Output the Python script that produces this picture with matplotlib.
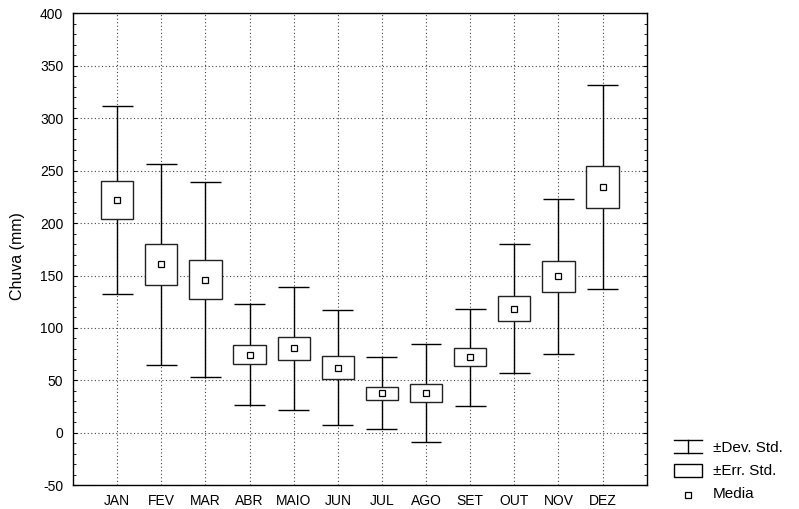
import matplotlib
matplotlib.use("Agg")
import matplotlib.pyplot as plt
from matplotlib.lines import Line2D
from matplotlib.patches import Rectangle
import numpy as np

plt.rcParams['font.family'] = ['Liberation Sans', 'DejaVu Sans']

months = ["JAN", "FEV", "MAR", "ABR", "MAIO", "JUN", "JUL", "AGO", "SET", "OUT", "NOV", "DEZ"]
mean = [222.0, 160.8, 146.0, 74.5, 80.5, 62.3, 37.8, 38.0, 72.0, 118.5, 149.3, 234.5]
std_err = [17.9, 19.4, 18.4, 9.2, 11.1, 10.5, 6.0, 8.8, 8.7, 12.0, 14.6, 19.8]
std_dev = [89.3, 95.9, 93.0, 48.0, 58.5, 54.5, 34.6, 46.9, 46.1, 61.8, 73.9, 97.6]
y_ticks = [-50, 0, 50, 100, 150, 200, 250, 300, 350, 400]

W, H = 799, 509
fig = plt.figure(figsize=(W / 100, H / 100), dpi=100)
ax = fig.add_axes([73 / W, 1 - 485.3 / H, (646.7 - 73) / W, (485.3 - 13.3) / H])

x = np.arange(len(months))
m = np.array(mean)
se = np.array(std_err)
sd = np.array(std_dev)

box_w = 0.73
cap_w = 0.70

# whiskers (std dev)
ax.vlines(x, m - sd, m + sd, color='black', lw=1.0, zorder=3)
ax.hlines(m + sd, x - cap_w / 2, x + cap_w / 2, color='black', lw=1.0, zorder=3)
ax.hlines(m - sd, x - cap_w / 2, x + cap_w / 2, color='black', lw=1.0, zorder=3)
# boxes (std err)
ax.bar(x, 2 * se, bottom=m - se, width=box_w, facecolor='white',
       edgecolor='#222222', linewidth=1.0, zorder=4)
# means
ax.plot(x, m, linestyle='none', marker='s', markersize=4.2, markerfacecolor='white',
        markeredgecolor='black', markeredgewidth=0.9, zorder=5)

ax.set_xlim(-1, len(months))
ax.set_ylim(-50, 400)
ax.set_xticks(x)
ax.set_xticklabels(months, fontsize=10)
ax.set_yticks(y_ticks)
ax.set_yticklabels([str(v) for v in y_ticks], fontsize=10)
ax.set_yticks(np.arange(-50, 401, 10), minor=True)
ax.tick_params(axis='x', length=0, pad=6)
ax.tick_params(axis='y', which='major', direction='in', length=3, right=True, pad=7)
ax.tick_params(axis='y', which='minor', direction='in', length=2, right=True)
ax.grid(True, which='major', color='#444444', linestyle=(0, (1, 2.2)), linewidth=0.8, zorder=1)
ax.set_axisbelow(True)
for s in ax.spines.values():
    s.set_linewidth(1.0)
    s.set_color('black')
ax.set_ylabel("Chuva (mm)", fontsize=11.5)
ax.yaxis.set_label_coords(-0.083, 0.485)

# legend drawn manually
def fx(px):
    return px / W

def fy(py):
    return 1 - py / H

fig.add_artist(Line2D([fx(674), fx(702)], [fy(439.5), fy(439.5)], color='black', lw=1.0))
fig.add_artist(Line2D([fx(674), fx(702)], [fy(452.7), fy(452.7)], color='black', lw=1.0))
fig.add_artist(Line2D([fx(688), fx(688)], [fy(439.5), fy(452.7)], color='black', lw=1.0))
fig.add_artist(Rectangle((fx(674), fy(476.7)), fx(702) - fx(674), fy(464.3) - fy(476.7),
                         facecolor='white', edgecolor='black', lw=1.0, transform=fig.transFigure))
fig.add_artist(Line2D([fx(688)], [fy(494.5)], linestyle='none', marker='s', markersize=4.2,
                      markerfacecolor='white', markeredgecolor='black', markeredgewidth=0.9))
for label, yy in [("±Dev. Std.", 447.5), ("±Err. Std.", 471), ("Media", 494.5)]:
    fig.text(fx(713), fy(yy), label, fontsize=11, va='center', ha='left')

fig.savefig("out.png", dpi=100)
